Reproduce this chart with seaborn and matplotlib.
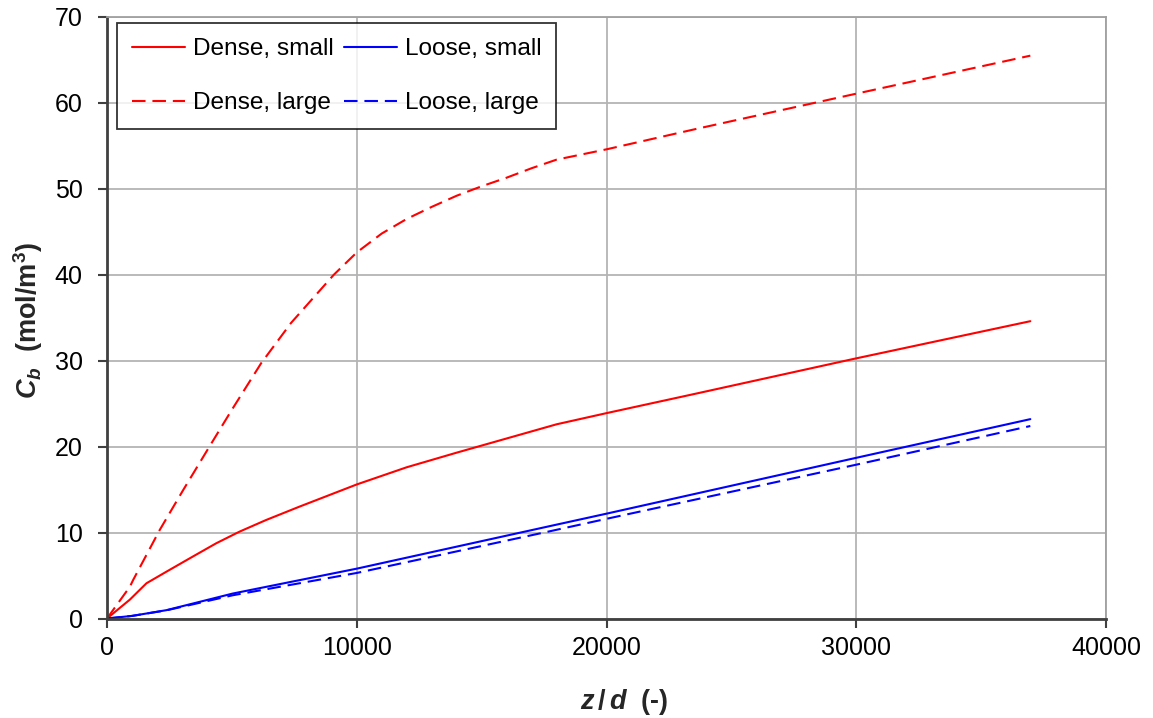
import numpy as np
import pandas as pd
import matplotlib
matplotlib.use("Agg")
import matplotlib.pyplot as plt
import seaborn as sns

# ---- data ----
dense_small_x = [0, 916, 1580, 2380, 3310, 4370, 5300, 6360, 7690, 10000, 12000, 14000, 16000, 18000, 20000, 23630, 29880, 36970]
dense_small_y = [0, 2.2, 4.1, 5.45, 7.0, 8.75, 10.1, 11.45, 13.0, 15.6, 17.6, 19.3, 20.95, 22.6, 23.9, 26.2, 30.2, 34.6]

dense_large_x = [0, 916, 1050, 2110, 3040, 4100, 4980, 6170, 7370, 9080, 10000, 11000, 12000, 13000, 14000, 15000, 16000, 17000, 18000, 20000, 23630, 29880, 36970]
dense_large_y = [0, 3.7, 4.5, 10.3, 14.9, 20.0, 24.2, 29.7, 34.4, 40.0, 42.6, 44.8, 46.5, 47.9, 49.2, 50.3, 51.3, 52.4, 53.4, 54.6, 57.0, 61.0, 65.5]

loose_small_x = [0, 1000, 2380, 5030, 10000, 17650, 20000, 30000, 36970]
loose_small_y = [0, 0.3, 0.97, 2.9, 5.8, 10.7, 12.2, 18.7, 23.2]

loose_large_x = [0, 1000, 2380, 5030, 10000, 17650, 20000, 30000, 36970]
loose_large_y = [0, 0.3, 0.95, 2.7, 5.3, 10.1, 11.6, 17.9, 22.4]

labels = ["Dense, small", "Dense, large", "Loose, small", "Loose, large"]
x_ticks = [0, 10000, 20000, 30000, 40000]
y_ticks = [0, 10, 20, 30, 40, 50, 60, 70]

sns.set_theme(style="white")
plt.rcParams["font.family"] = ["Liberation Sans", "DejaVu Sans"]
plt.rcParams["text.color"] = "black"
plt.rcParams["mathtext.fontset"] = "custom"
plt.rcParams["mathtext.rm"] = "Liberation Sans:bold"
plt.rcParams["mathtext.it"] = "Liberation Sans:italic:bold"
plt.rcParams["mathtext.bf"] = "Liberation Sans:bold"

fig = plt.figure(figsize=(11.53, 7.18), dpi=100)
ax = fig.add_axes([107/1153, 1 - 618.5/718, (1106-107)/1153, (618.5-17)/718])

dash = (0, (6.5, 3.3))
series = [
    (dense_small_x, dense_small_y, labels[0], "#ff0000", "-"),
    (dense_large_x, dense_large_y, labels[1], "#ff0000", dash),
    (loose_small_x, loose_small_y, labels[2], "#0000ff", "-"),
    (loose_large_x, loose_large_y, labels[3], "#0000ff", dash),
]
for xs, ys, lab, col, ls in series:
    df = pd.DataFrame({"x": xs, "y": ys})
    sns.lineplot(data=df, x="x", y="y", ax=ax, color=col, linestyle=ls,
                 linewidth=1.5, label=lab, estimator=None, sort=False)

ax.set_xlim(0, 40000)
ax.set_ylim(0, 70)
ax.set_xticks(x_ticks)
ax.set_yticks(y_ticks)
ax.set_xticklabels([str(v) for v in x_ticks])
ax.set_yticklabels([str(v) for v in y_ticks])
ax.grid(True, color="#b4b4b4", linewidth=1.3)
ax.set_axisbelow(True)

for side in ["left", "bottom"]:
    ax.spines[side].set_color("#404040")
    ax.spines[side].set_linewidth(2)
for side in ["top", "right"]:
    ax.spines[side].set_color("#a0a0a0")
    ax.spines[side].set_linewidth(1.3)

ax.tick_params(axis="both", direction="out", length=6.5, width=1.5, color="#404040",
               labelsize=18, labelcolor="black", bottom=True, left=True)
ax.tick_params(axis="y", pad=11)
ax.tick_params(axis="x", pad=6)

ax.set_xlabel(r"$z\,/\,d$  (-)", fontsize=19.5, fontweight="bold")
ax.set_ylabel(r"$C_b$  (mol/m$^3$)", fontsize=19.5, fontweight="bold")
ax.xaxis.set_label_coords(0.5175, -0.114)
ax.yaxis.set_label_coords(-0.062, 0.495)

leg = ax.legend(loc="upper left", ncol=2, fontsize=17.6, frameon=True, fancybox=False,
                handlelength=2.17, handletextpad=0.3, columnspacing=0.45,
                labelspacing=1.3, borderpad=0.62, borderaxespad=0,
                bbox_to_anchor=(0.010, 0.990))
leg.get_frame().set_edgecolor("black")
leg.get_frame().set_linewidth(1.3)
for t in leg.get_texts():
    t.set_color("black")

fig.savefig("out.png", dpi=100, facecolor="white")
